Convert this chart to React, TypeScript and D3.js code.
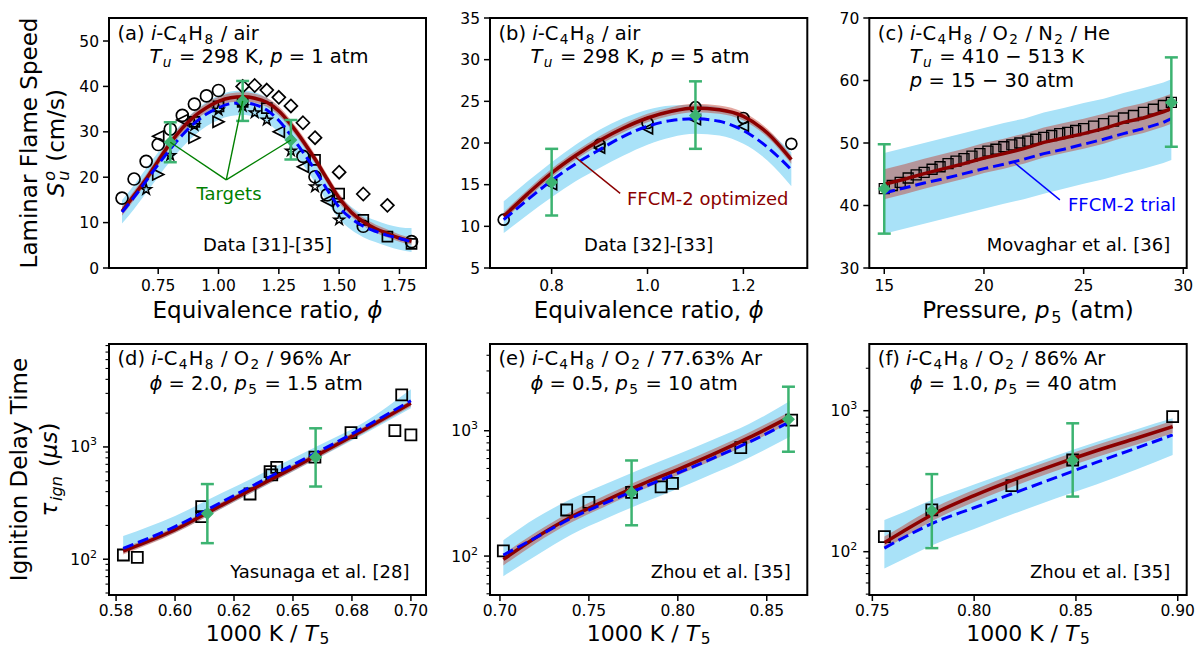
import React from "react";
import * as d3 from "d3";

const FONT = "'DejaVu Sans', sans-serif";
const RED = "#8b0000";
const BLUE = "#0000ff";
const GREEN = "#3cb371";
const BAND_BLUE = "#a9e2f8";
const BAND_RED = "#c0392b";

// ---------- (a) laminar flame speed, 1 atm ----------
const phiA = [0.6, 0.65, 0.7, 0.75, 0.8, 0.85, 0.9, 0.95, 1.0, 1.05, 1.1, 1.15, 1.2, 1.25, 1.3, 1.35, 1.4, 1.45, 1.5, 1.55, 1.6, 1.65, 1.7, 1.75, 1.8];
const optA = [12.5, 16.0, 19.6, 23.6, 27.5, 30.8, 33.4, 35.3, 36.7, 37.5, 37.7, 37.4, 36.5, 34.6, 31.6, 28.0, 24.0, 19.6, 15.4, 12.3, 10.2, 8.7, 7.6, 6.6, 5.9];
const optLoA = [11.5, 15.0, 18.6, 22.6, 26.5, 29.8, 32.4, 34.3, 35.7, 36.5, 36.7, 36.4, 35.5, 33.6, 30.6, 27.0, 23.0, 18.6, 14.4, 11.4, 9.3, 7.8, 6.7, 5.8, 5.1];
const optHiA = [13.5, 17.0, 20.6, 24.6, 28.5, 31.8, 34.4, 36.3, 37.7, 38.5, 38.7, 38.4, 37.5, 35.6, 32.6, 29.0, 25.0, 20.6, 16.4, 13.2, 11.1, 9.6, 8.5, 7.4, 6.7];
const trialA = [12.3, 15.6, 19.2, 22.8, 26.2, 29.3, 31.9, 33.9, 35.3, 36.2, 36.4, 36.0, 34.8, 32.5, 29.2, 25.5, 21.6, 17.3, 13.4, 10.9, 9.2, 8.1, 7.2, 6.5, 5.8];
const trialLoA = [9.8, 13.0, 16.5, 20.1, 23.5, 26.6, 29.2, 31.2, 32.6, 33.5, 33.7, 33.3, 32.1, 29.8, 26.5, 22.8, 18.9, 14.6, 10.8, 8.4, 6.8, 5.7, 4.8, 4.0, 3.5];
const trialHiA = [14.9, 18.3, 21.9, 25.5, 28.9, 32.0, 34.6, 36.6, 38.0, 38.9, 39.1, 38.7, 37.5, 35.2, 31.9, 28.2, 24.3, 20.0, 16.1, 13.5, 11.7, 10.5, 9.6, 9.0, 8.8];
const targetPhiA = [0.8, 1.1, 1.3];
const targetSA = [27.7, 36.8, 28.2];
const targetLoA = [23.3, 32.4, 23.9];
const targetHiA = [32.1, 41.2, 32.6];
const circlePhiA = [0.6, 0.65, 0.7, 0.75, 0.8, 0.85, 0.9, 0.95, 1.0, 1.35, 1.4, 1.45, 1.5, 1.6, 1.8];
const circleSA = [15.4, 19.6, 23.5, 27.2, 30.6, 33.6, 36.1, 37.9, 39.1, 24.6, 20.1, 16.1, 13.3, 9.2, 5.8];
const diamondPhiA = [1.1, 1.15, 1.2, 1.25, 1.3, 1.35, 1.4, 1.5, 1.6, 1.7];
const diamondSA = [40.0, 40.2, 39.2, 37.6, 35.7, 32.0, 28.7, 21.1, 16.3, 13.8];
const triLeftPhiA = [0.75, 0.85, 1.25, 1.35, 1.45];
const triLeftSA = [29.0, 32.6, 30.0, 22.3, 14.8];
const triRightPhiA = [0.75, 0.9, 1.0];
const triRightSA = [20.6, 28.7, 32.2];
const starPhiA = [0.7, 0.8, 0.9, 1.0, 1.1, 1.15, 1.2, 1.3, 1.4, 1.5];
const starSA = [17.3, 24.8, 31.4, 34.8, 35.6, 34.2, 32.6, 25.8, 17.9, 10.6];
const squarePhiA = [0.9, 1.0, 1.1, 1.2, 1.4, 1.5, 1.6, 1.7, 1.8];
const squareSA = [32.2, 35.6, 36.6, 35.2, 23.8, 16.4, 10.6, 6.9, 5.3];
const targetsNoteA = { phi: 1.032, s: 19.4 };

// ---------- (b) laminar flame speed, 5 atm ----------
const phiB = [0.7, 0.75, 0.8, 0.85, 0.9, 0.95, 1.0, 1.05, 1.1, 1.15, 1.2, 1.25, 1.3];
const optB = [11.2, 13.9, 16.4, 18.5, 20.3, 21.8, 23.0, 23.8, 24.2, 24.0, 23.2, 21.2, 18.0];
const optLoB = [10.7, 13.4, 15.9, 18.0, 19.8, 21.3, 22.5, 23.3, 23.7, 23.5, 22.7, 20.7, 17.5];
const optHiB = [11.7, 14.4, 16.9, 19.0, 20.8, 22.3, 23.5, 24.3, 24.7, 24.5, 23.7, 21.7, 18.5];
const trialB = [10.8, 13.2, 15.5, 17.5, 19.2, 20.8, 22.0, 22.7, 22.9, 22.6, 21.5, 19.5, 16.8];
const trialLoB = [9.2, 11.4, 13.5, 15.4, 17.0, 18.5, 19.8, 20.7, 21.1, 20.9, 19.9, 17.9, 14.8];
const trialHiB = [13.0, 15.4, 17.7, 19.8, 21.6, 23.0, 24.0, 24.5, 24.6, 24.3, 23.3, 21.5, 18.9];
const targetPhiB = [0.8, 1.1];
const targetSB = [15.3, 23.3];
const targetLoB = [11.3, 19.3];
const targetHiB = [19.3, 27.4];
const circlePhiB = [0.7, 0.9, 1.0, 1.1, 1.2, 1.3];
const circleSB = [10.8, 19.8, 22.4, 24.3, 23.0, 19.9];
const triLeftPhiB = [0.8, 0.9, 1.0, 1.1, 1.2];
const triLeftSB = [15.0, 19.4, 21.7, 22.8, 22.0];
const optNoteB = { from: [0.848, 18.36], to: [0.943, 13.96] };

// ---------- (c) laminar flame speed vs pressure ----------
const pC = [15, 16, 17, 18, 19, 20, 21, 22, 23, 24, 25, 26, 27, 28, 29, 29.4];
const optC = [43.4, 44.2, 45.1, 45.9, 46.7, 47.6, 48.3, 49.1, 50.1, 50.8, 51.5, 52.3, 53.3, 54.0, 55.0, 55.5];
const optLoC = [41.0, 41.8, 42.7, 43.5, 44.3, 45.2, 45.9, 46.7, 47.7, 48.4, 49.1, 49.9, 50.9, 51.6, 52.6, 53.1];
const optHiC = [45.8, 46.6, 47.5, 48.3, 49.1, 50.0, 50.7, 51.5, 52.5, 53.2, 53.9, 54.7, 55.7, 56.4, 57.4, 57.9];
const trialC = [42.0, 42.8, 43.6, 44.3, 45.1, 45.9, 46.6, 47.4, 48.3, 49.0, 49.8, 50.6, 51.5, 52.3, 53.3, 53.9];
const trialLoC = [35.5, 36.3, 37.1, 37.9, 38.7, 39.5, 40.3, 41.0, 41.9, 42.7, 43.5, 44.2, 45.1, 45.9, 46.8, 47.3];
const trialHiC = [48.4, 49.2, 50.0, 50.8, 51.6, 52.4, 53.2, 53.9, 54.9, 55.6, 56.4, 57.1, 58.0, 58.8, 59.7, 60.2];
const targetPC = [15, 29.4];
const targetSC = [42.7, 56.5];
const targetLoC = [35.5, 49.4];
const targetHiC = [49.8, 63.7];
const squarePC = [15.0, 15.4, 15.8, 16.2, 16.6, 17.0, 17.4, 17.8, 18.2, 18.6, 19.0, 19.4, 19.8, 20.2, 20.6, 21.0, 21.4, 21.8, 22.2, 22.6, 23.0, 23.4, 23.8, 24.2, 24.6, 25.0, 25.5, 26.0, 26.5, 27.0, 27.5, 28.0, 28.5, 29.0, 29.4];
const squareSC = [42.7, 43.2, 43.7, 44.4, 44.9, 45.3, 45.8, 46.2, 46.7, 47.1, 47.5, 47.9, 48.3, 48.7, 49.0, 49.4, 49.7, 50.0, 50.3, 50.6, 50.9, 51.2, 51.5, 51.7, 52.0, 52.3, 52.7, 53.1, 53.5, 54.0, 54.4, 54.9, 55.4, 56.0, 56.5];
const trialNoteC = { from: [21.47, 47.0], to: [23.81, 40.9] };

// ---------- (d) ignition delay, 96% Ar ----------
const xD = [0.578, 0.6, 0.62, 0.64, 0.66, 0.68, 0.7];
const optD = [118, 183, 305, 505, 840, 1420, 2450];
const optLoD = [110, 171, 285, 472, 785, 1330, 2290];
const optHiD = [126, 195, 325, 538, 895, 1510, 2610];
const trialD = [125, 195, 325, 540, 890, 1490, 2580];
const trialLoD = [113, 172, 285, 470, 780, 1300, 2210];
const trialHiD = [161, 243, 390, 625, 1010, 1650, 3265];
const targetXD = [0.6137, 0.6596];
const targetTauD = [255, 810];
const targetLoD = [139, 444];
const targetHiD = [467, 1466];
const squareXD = [0.5781, 0.584, 0.6113, 0.6113, 0.6318, 0.6403, 0.641, 0.6431, 0.6593, 0.6746, 0.6932, 0.7, 0.6961];
const squareTauD = [109, 104, 294, 240, 381, 603, 563, 659, 810, 1341, 1397, 1279, 2906];

// ---------- (e) ignition delay, 77.63% Ar ----------
const xE = [0.7019, 0.72, 0.74, 0.76, 0.78, 0.8, 0.82, 0.84, 0.863];
const optE = [94, 140, 205, 280, 375, 490, 650, 880, 1290];
const optLoE = [84, 126, 185, 252, 338, 441, 585, 792, 1160];
const optHiE = [104, 154, 226, 308, 412, 540, 715, 970, 1420];
const trialE = [102, 140, 200, 268, 352, 460, 605, 810, 1180];
const trialLoE = [69, 100, 148, 200, 265, 345, 455, 610, 896];
const trialHiE = [134, 200, 285, 380, 500, 650, 850, 1130, 1727];
const targetXE = [0.774, 0.8622];
const targetTauE = [322, 1233];
const targetLoE = [176, 680];
const targetHiE = [579, 2245];
const squareXE = [0.7019, 0.7375, 0.75, 0.774, 0.7906, 0.797, 0.8354, 0.864];
const squareTauE = [110, 233, 268, 322, 357, 380, 732, 1217];

// ---------- (f) ignition delay, 86% Ar ----------
const xF = [0.7559, 0.765, 0.78, 0.8, 0.82, 0.84, 0.86, 0.88, 0.8975];
const optF = [116, 139, 185, 250, 326, 415, 520, 640, 770];
const optLoF = [104, 125, 167, 225, 293, 374, 468, 576, 693];
const optHiF = [128, 153, 204, 275, 359, 457, 572, 704, 847];
const trialF = [106, 125, 160, 205, 262, 335, 430, 545, 673];
const trialLoF = [76, 88, 112, 145, 187, 238, 300, 385, 485];
const trialHiF = [168, 190, 235, 300, 380, 480, 600, 740, 883];
const targetXF = [0.7792, 0.8484];
const targetTauF = [195, 445];
const targetLoF = [106, 246];
const targetHiF = [355, 814];
const squareXF = [0.7559, 0.7792, 0.8185, 0.8484, 0.8975];
const squareTauF = [128, 198, 294, 447, 907];

// tick labels
const ticksA = [0.75, 1.0, 1.25, 1.5, 1.75];
const tickLabelsA = ["0.75", "1.00", "1.25", "1.50", "1.75"];
const ticksB = [0.8, 1.0, 1.2];
const tickLabelsB = ["0.8", "1.0", "1.2"];
const ticksC = [15, 20, 25, 30];
const ticksD = [0.575, 0.6, 0.625, 0.65, 0.675, 0.7];
const tickLabelsD = ["0.58", "0.60", "0.62", "0.65", "0.68", "0.70"];
const ticksE = [0.7, 0.75, 0.8, 0.85];
const tickLabelsE = ["0.70", "0.75", "0.80", "0.85"];
const ticksF = [0.75, 0.8, 0.85, 0.9];
const tickLabelsF = ["0.75", "0.80", "0.85", "0.90"];
const yTicksA = [0, 10, 20, 30, 40, 50];
const yTicksB = [5, 10, 15, 20, 25, 30, 35];
const yTicksC = [30, 40, 50, 60, 70];
const logMajors = [100, 1000];

type Shape = "o" | "s" | "D" | "<" | ">" | "*";
type MarkerSet = { shape: Shape; xs: number[]; ys: number[]; size: number; sw: number };
type PanelDef = {
  box: [number, number, number, number];
  xDomain: [number, number];
  yDomain: [number, number];
  log: boolean;
  smooth: boolean;
  xTicks: number[];
  xTickLabels: string[];
  yTicks: number[];
  grid: number[];
  opt: number[];
  optLo: number[];
  optHi: number[];
  trial: number[];
  trialLo: number[];
  trialHi: number[];
  markers: MarkerSet[];
  tx: number[];
  ty: number[];
  tlo: number[];
  thi: number[];
};

function markerD(shape: Shape, s: number): string {
  const r = s / 2;
  if (shape === "o") return d3.symbol(d3.symbolCircle, Math.PI * r * r)() as string;
  if (shape === "s") return d3.symbol(d3.symbolSquare, s * s)() as string;
  if (shape === "D") return `M0,${-r}L${r},0L0,${r}L${-r},0Z`;
  if (shape === "<") return `M${-r},0L${r},${-r}L${r},${r}Z`;
  if (shape === ">") return `M${r},0L${-r},${-r}L${-r},${r}Z`;
  return d3.symbol(d3.symbolStar, (r * r) / 0.8908)() as string;
}

// text parts: [text, flags (i = italic, b = subscript, p = superscript), dx]
type Part = [string, string?, number?];

function Rich(props: {
  x: number; y: number; size: number; parts: Part[];
  anchor?: string; fill?: string; rotate?: boolean; drop?: number;
}) {
  const { x, y, size, parts, anchor = "start", fill = "#000", rotate, drop = 0.22 } = props;
  const pad = size * 0.07;
  let cur = 0;
  let prevSmall = false;
  const spans = parts.map(([t, f = "", dx], k) => {
    const small = f.includes("b") || f.includes("p");
    const target = f.includes("b") ? size * drop : f.includes("p") ? -size * 0.4 : 0;
    const dy = target - cur;
    cur = target;
    const shift = dx !== undefined ? dx : small !== prevSmall ? pad : 0;
    prevSmall = small;
    return (
      <tspan key={k} dy={dy} dx={shift} fontSize={small ? size * 0.7 : size}
        fontStyle={f.includes("i") ? "italic" : "normal"}>{t}</tspan>
    );
  });
  return (
    <text x={x} y={y} fontSize={size} textAnchor={anchor} fill={fill}
      style={{ whiteSpace: "pre" }}
      transform={rotate ? `rotate(-90 ${x} ${y})` : undefined}>{spans}</text>
  );
}

function Panel({ p, extra }: { p: PanelDef; extra?: (x: any, y: any) => React.ReactNode }) {
  const [l, t, r, b] = p.box;
  const x = d3.scaleLinear().domain(p.xDomain).range([l, r]);
  const y: any = p.log
    ? d3.scaleLog().domain(p.yDomain).range([b, t])
    : d3.scaleLinear().domain(p.yDomain).range([b, t]);
  const curve = p.smooth ? d3.curveMonotoneX : d3.curveLinear;
  const line = d3.line<number>().x((_, i) => x(p.grid[i])).y((d) => y(d)).curve(curve);
  const area = (lo: number[], hi: number[]) =>
    d3.area<number>().x((_, i) => x(p.grid[i])).y0((d) => y(d)).y1((_, i) => y(hi[i])).curve(curve)(lo) as string;
  const minors: number[] = p.log
    ? y.ticks().filter((v: number) => Math.abs(Math.log10(v) - Math.round(Math.log10(v))) > 1e-6)
    : [];
  const tickY = p.log ? b + 21 : b + 23;

  return (
    <g>
      <path d={area(p.trialLo, p.trialHi)} fill={BAND_BLUE} />
      <path d={area(p.optLo, p.optHi)} fill={BAND_RED} fillOpacity={0.45} />
      {p.markers.map((m, k) =>
        m.xs.map((v, i) => (
          <path key={`${k}-${i}`} d={markerD(m.shape, m.size)}
            transform={`translate(${x(v)},${y(m.ys[i])})`}
            fill="none" stroke="#000" strokeWidth={m.sw} />
        ))
      )}
      <path d={line(p.opt) as string} fill="none" stroke={RED} strokeWidth={3.5} />
      <path d={line(p.trial) as string} fill="none" stroke={BLUE} strokeWidth={3} strokeDasharray="11,5" />
      {p.tx.map((v, i) => (
        <g key={`t${i}`} stroke={GREEN} strokeWidth={2.5}>
          <line x1={x(v)} x2={x(v)} y1={y(p.tlo[i])} y2={y(p.thi[i])} />
          <line x1={x(v) - 6.5} x2={x(v) + 6.5} y1={y(p.tlo[i])} y2={y(p.tlo[i])} />
          <line x1={x(v) - 6.5} x2={x(v) + 6.5} y1={y(p.thi[i])} y2={y(p.thi[i])} />
          <path d={markerD("D", 13)} transform={`translate(${x(v)},${y(p.ty[i])})`} fill={GREEN} stroke="none" />
        </g>
      ))}
      {extra && extra(x, y)}
      <g stroke="#000">
        {p.xTicks.map((v) => (
          <line key={`xt${v}`} x1={x(v)} x2={x(v)} y1={b} y2={b + 6} strokeWidth={1.5} />
        ))}
        {p.yTicks.map((v) => (
          <line key={`yt${v}`} x1={l - 6} x2={l} y1={y(v)} y2={y(v)} strokeWidth={1.5} />
        ))}
        {minors.map((v) => (
          <line key={`ym${v}`} x1={l - 3.5} x2={l} y1={y(v)} y2={y(v)} strokeWidth={1.1} />
        ))}
      </g>
      {p.xTicks.map((v, i) => (
        <text key={`xl${v}`} x={x(v)} y={tickY} fontSize={15.5} textAnchor="middle">{p.xTickLabels[i]}</text>
      ))}
      {p.yTicks.map((v) =>
        p.log ? (
          <text key={`yl${v}`} x={l - 12} y={y(v) + 5.5} fontSize={15.5} textAnchor="end">
            10<tspan dy={-7} fontSize={11}>{Math.round(Math.log10(v))}</tspan>
          </text>
        ) : (
          <text key={`yl${v}`} x={l - 10} y={y(v) + 5.5} fontSize={15.5} textAnchor="end">{v}</text>
        )
      )}
      <rect x={l} y={t} width={r - l} height={b - t} fill="none" stroke="#000" strokeWidth={2} />
    </g>
  );
}

const TOP: [number, number] = [18, 268];
const BOT: [number, number] = [344, 595];
const COLS: [number, number][] = [[109, 426], [490, 807.3], [869.3, 1186.7]];

const panelA: PanelDef = {
  box: [COLS[0][0], TOP[0], COLS[0][1], TOP[1]], xDomain: [0.546, 1.86], yDomain: [0, 55.07], log: false, smooth: true,
  xTicks: ticksA, xTickLabels: tickLabelsA, yTicks: yTicksA,
  grid: phiA, opt: optA, optLo: optLoA, optHi: optHiA, trial: trialA, trialLo: trialLoA, trialHi: trialHiA,
  markers: [
    { shape: "o", xs: circlePhiA, ys: circleSA, size: 12, sw: 1.7 },
    { shape: "D", xs: diamondPhiA, ys: diamondSA, size: 13, sw: 1.7 },
    { shape: "<", xs: triLeftPhiA, ys: triLeftSA, size: 11, sw: 1.7 },
    { shape: ">", xs: triRightPhiA, ys: triRightSA, size: 11, sw: 1.7 },
    { shape: "*", xs: starPhiA, ys: starSA, size: 11, sw: 1.5 },
    { shape: "s", xs: squarePhiA, ys: squareSA, size: 10, sw: 1.7 },
  ],
  tx: targetPhiA, ty: targetSA, tlo: targetLoA, thi: targetHiA,
};
const panelB: PanelDef = {
  box: [COLS[1][0], TOP[0], COLS[1][1], TOP[1]], xDomain: [0.6714, 1.3333], yDomain: [5, 35], log: false, smooth: true,
  xTicks: ticksB, xTickLabels: tickLabelsB, yTicks: yTicksB,
  grid: phiB, opt: optB, optLo: optLoB, optHi: optHiB, trial: trialB, trialLo: trialLoB, trialHi: trialHiB,
  markers: [
    { shape: "o", xs: circlePhiB, ys: circleSB, size: 11, sw: 1.7 },
    { shape: "<", xs: triLeftPhiB, ys: triLeftSB, size: 10, sw: 1.7 },
  ],
  tx: targetPhiB, ty: targetSB, tlo: targetLoB, thi: targetHiB,
};
const panelC: PanelDef = {
  box: [COLS[2][0], TOP[0], COLS[2][1], TOP[1]], xDomain: [14.25, 30.17], yDomain: [30, 70], log: false, smooth: false,
  xTicks: ticksC, xTickLabels: ticksC.map(String), yTicks: yTicksC,
  grid: pC, opt: optC, optLo: optLoC, optHi: optHiC, trial: trialC, trialLo: trialLoC, trialHi: trialHiC,
  markers: [{ shape: "s", xs: squarePC, ys: squareSC, size: 10, sw: 1.3 }],
  tx: targetPC, ty: targetSC, tlo: targetLoC, thi: targetHiC,
};
const panelD: PanelDef = {
  box: [COLS[0][0], BOT[0], COLS[0][1], BOT[1]], xDomain: [0.572, 0.7064], yDomain: [48, 8260], log: true, smooth: true,
  xTicks: ticksD, xTickLabels: tickLabelsD, yTicks: logMajors,
  grid: xD, opt: optD, optLo: optLoD, optHi: optHiD, trial: trialD, trialLo: trialLoD, trialHi: trialHiD,
  markers: [{ shape: "s", xs: squareXD, ys: squareTauD, size: 11, sw: 1.8 }],
  tx: targetXD, ty: targetTauD, tlo: targetLoD, thi: targetHiD,
};
const panelE: PanelDef = {
  box: [COLS[1][0], BOT[0], COLS[1][1], BOT[1]], xDomain: [0.6944, 0.8728], yDomain: [48.9, 4920], log: true, smooth: true,
  xTicks: ticksE, xTickLabels: tickLabelsE, yTicks: logMajors,
  grid: xE, opt: optE, optLo: optLoE, optHi: optHiE, trial: trialE, trialLo: trialLoE, trialHi: trialHiE,
  markers: [{ shape: "s", xs: squareXE, ys: squareTauE, size: 11, sw: 1.8 }],
  tx: targetXE, ty: targetTauE, tlo: targetLoE, thi: targetHiE,
};
const panelF: PanelDef = {
  box: [COLS[2][0], BOT[0], COLS[2][1], BOT[1]], xDomain: [0.7485, 0.9044], yDomain: [49.3, 2972], log: true, smooth: true,
  xTicks: ticksF, xTickLabels: tickLabelsF, yTicks: logMajors,
  grid: xF, opt: optF, optLo: optLoF, optHi: optHiF, trial: trialF, trialLo: trialLoF, trialHi: trialHiF,
  markers: [{ shape: "s", xs: squareXF, ys: squareTauF, size: 11, sw: 1.8 }],
  tx: targetXF, ty: targetTauF, tlo: targetLoF, thi: targetHiF,
};

const NS = 18; // note font size
const TS = 19.5; // title font size
const fuel: Part[] = [["i", "i"], ["-C"], ["4", "b"], ["H"], ["8", "b"]];

function Titles({ col, row, lines, note, noteCenter }: {
  col: number; row: number; lines: Part[][]; note: string; noteCenter?: boolean;
}) {
  const [l, r] = COLS[col];
  const [t, b] = row === 0 ? TOP : BOT;
  const base = row === 0 ? t + 21.5 : t + 21;
  const step = row === 0 ? 23.5 : 25;
  return (
    <g>
      {lines.map((parts, i) => (
        <Rich key={i} x={i === 0 ? l + 8.5 : l + 40.5} y={base + i * step} size={TS} parts={parts} />
      ))}
      <text x={noteCenter ? (l + r) / 2 : r - 16.5} y={b - 17} fontSize={NS}
        textAnchor={noteCenter ? "middle" : "end"}>{note}</text>
    </g>
  );
}

export default function App() {
  const xlabY1 = 318;
  const xlabY2 = 641;
  const cx = (c: number) => (COLS[c][0] + COLS[c][1]) / 2;
  return (
    <svg width={1196} height={648} fontFamily={FONT}
      style={{ position: "absolute", left: 0, top: 0, background: "#fff" }}>
      <rect width={1196} height={648} fill="#fff" />
      <Panel p={panelA} extra={(x, y) => (
        <g>
          {targetPhiA.map((v, i) => (
            <line key={i} x1={x(targetsNoteA.phi)} y1={y(targetsNoteA.s)} x2={x(v)} y2={y(targetSA[i])}
              stroke="green" strokeWidth={1.4} />
          ))}
          <text x={229} y={199.5} fontSize={NS} fill="green" textAnchor="middle">Targets</text>
        </g>
      )} />
      <Panel p={panelB} extra={(x, y) => (
        <g>
          <line x1={x(optNoteB.from[0])} y1={y(optNoteB.from[1])} x2={x(optNoteB.to[0])} y2={y(optNoteB.to[1])}
            stroke={RED} strokeWidth={1.4} />
          <text x={627} y={205} fontSize={NS} fill={RED}>FFCM-2 optimized</text>
        </g>
      )} />
      <Panel p={panelC} extra={(x, y) => (
        <g>
          <line x1={x(trialNoteC.from[0])} y1={y(trialNoteC.from[1])} x2={x(trialNoteC.to[0])} y2={y(trialNoteC.to[1])}
            stroke={BLUE} strokeWidth={1.4} />
          <text x={1068} y={210.5} fontSize={NS} fill={BLUE}>FFCM-2 trial</text>
        </g>
      )} />
      <Panel p={panelD} />
      <Panel p={panelE} />
      <Panel p={panelF} />

      <Titles col={0} row={0} noteCenter note="Data [31]-[35]" lines={[
        [["(a) "], ...fuel, [" / air"]],
        [["T", "i"], ["u", "ib"], [" = 298 K, "], ["p", "i"], [" = 1 atm"]],
      ]} />
      <Titles col={1} row={0} noteCenter note="Data [32]-[33]" lines={[
        [["(b) "], ...fuel, [" / air"]],
        [["T", "i"], ["u", "ib"], [" = 298 K, "], ["p", "i"], [" = 5 atm"]],
      ]} />
      <Titles col={2} row={0} note="Movaghar et al. [36]" lines={[
        [["(c) "], ...fuel, [" / O"], ["2", "b"], [" / N"], ["2", "b"], [" / He"]],
        [["T", "i"], ["u", "ib"], [" = 410 \u2212 513 K"]],
        [["p", "i"], [" = 15 \u2212 30 atm"]],
      ]} />
      <Titles col={0} row={1} note="Yasunaga et al. [28]" lines={[
        [["(d) "], ...fuel, [" / O"], ["2", "b"], [" / 96% Ar"]],
        [["\u03d5", "i"], [" = 2.0, "], ["p", "i"], ["5", "b"], [" = 1.5 atm"]],
      ]} />
      <Titles col={1} row={1} note="Zhou et al. [35]" lines={[
        [["(e) "], ...fuel, [" / O"], ["2", "b"], [" / 77.63% Ar"]],
        [["\u03d5", "i"], [" = 0.5, "], ["p", "i"], ["5", "b"], [" = 10 atm"]],
      ]} />
      <Titles col={2} row={1} note="Zhou et al. [35]" lines={[
        [["(f) "], ...fuel, [" / O"], ["2", "b"], [" / 86% Ar"]],
        [["\u03d5", "i"], [" = 1.0, "], ["p", "i"], ["5", "b"], [" = 40 atm"]],
      ]} />

      {/* axis labels */}
      <Rich x={cx(0)} y={xlabY1} size={23} anchor="middle" parts={[["Equivalence ratio, "], ["\u03d5", "i"]]} />
      <Rich x={cx(1)} y={xlabY1} size={23} anchor="middle" parts={[["Equivalence ratio, "], ["\u03d5", "i"]]} />
      <Rich x={cx(2)} y={xlabY1} size={23} anchor="middle" parts={[["Pressure, "], ["p", "i"], ["5", "b"], [" (atm)"]]} />
      {[0, 1, 2].map((c) => (
        <Rich key={c} x={cx(c)} y={xlabY2} size={22} drop={0.12} anchor="middle"
          parts={[["1000 K / "], ["T", "i"], ["5", "b"]]} />
      ))}
      <Rich x={37} y={143} size={23} anchor="middle" rotate parts={[["Laminar Flame Speed"]]} />
      <Rich x={64} y={143} size={23} anchor="middle" rotate
        parts={[["S", "i"], ["o", "ip", 1.5], ["u", "ib", -9.8], [" (cm/s)", "", 1.5]]} />
      <Rich x={27} y={469.5} size={23} anchor="middle" rotate parts={[["Ignition Delay Time"]]} />
      <Rich x={57} y={469.5} size={23} anchor="middle" rotate
        parts={[["\u03c4", "i"], ["ign", "ib"], [" ("], ["\u03bcs", "i"], [")"]]} />
    </svg>
  );
}
